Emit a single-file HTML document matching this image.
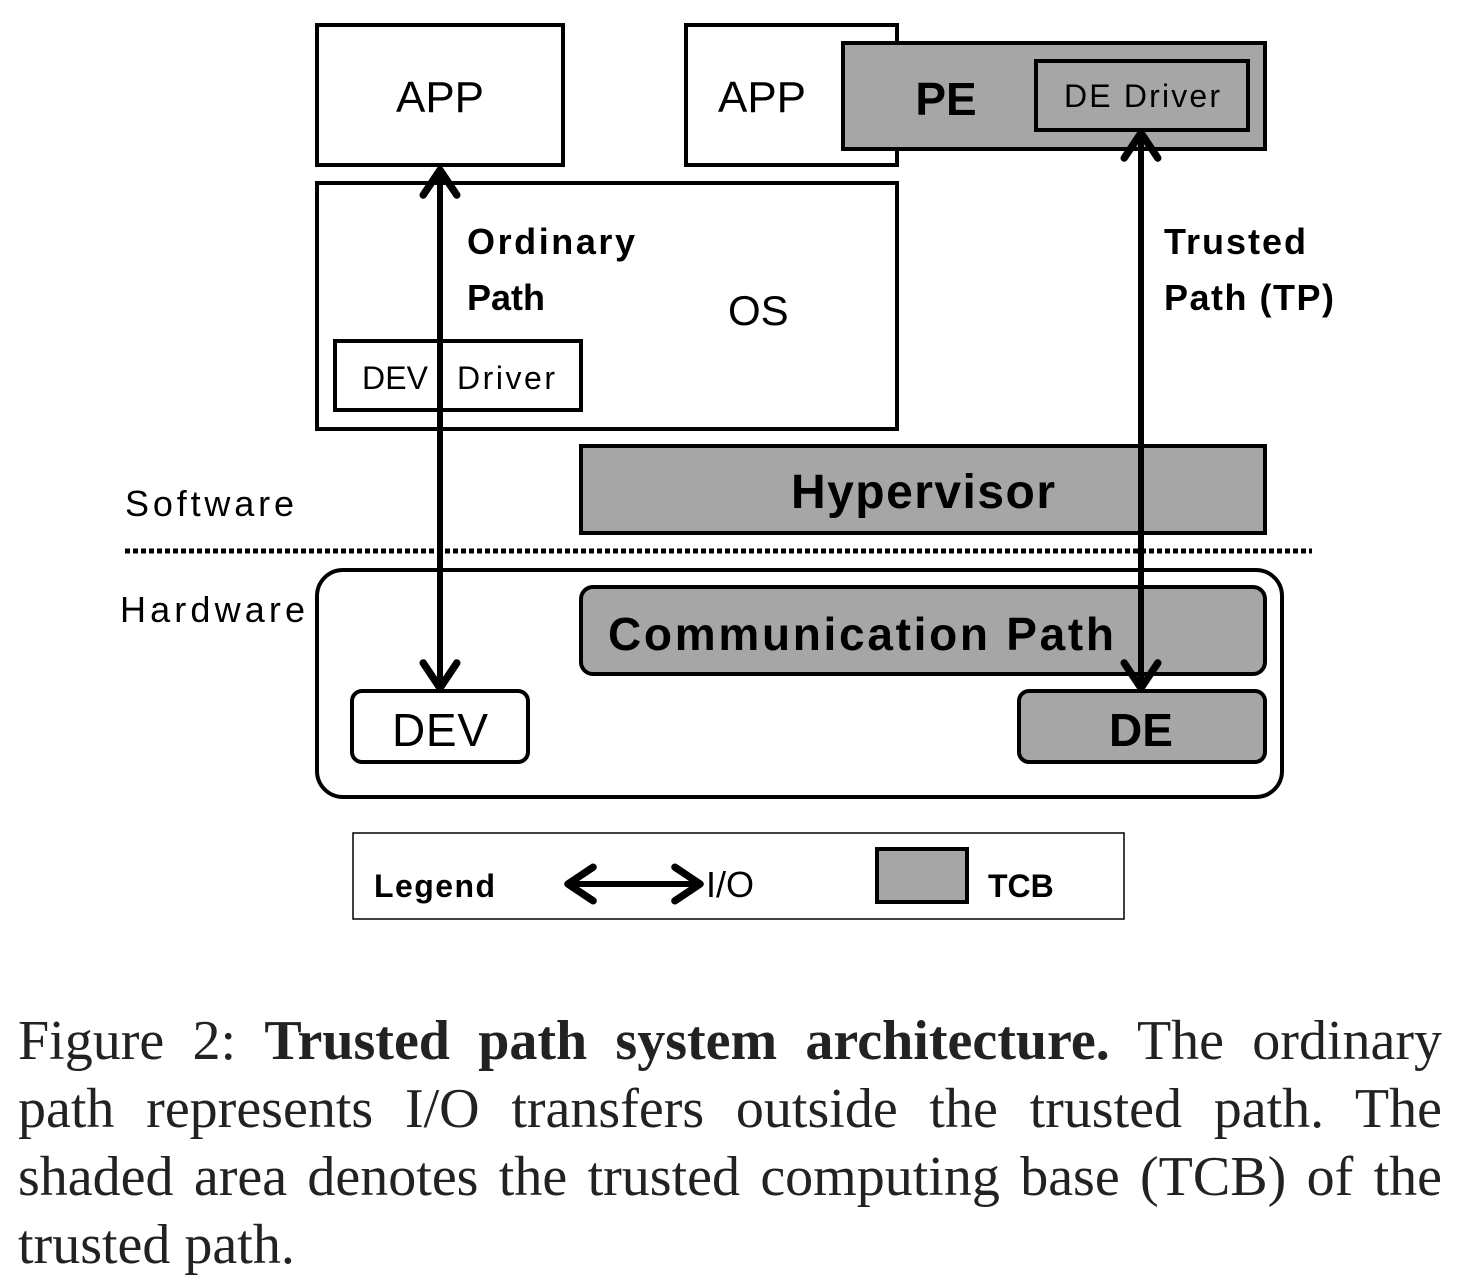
<!DOCTYPE html>
<html><head><style>
body{margin:0;background:#fff;width:1458px;height:1284px;overflow:hidden;position:relative}
svg{position:absolute;left:0;top:0}
.cap{position:absolute;left:18px;width:1424px;font-family:"Liberation Serif",serif;font-size:56px;line-height:68px;color:#222}
.cap div{text-align:justify;text-align-last:justify;white-space:nowrap}
.cap div.last{text-align-last:left}
</style></head><body>
<svg width="1458" height="960" viewBox="0 0 1458 960" font-family="Liberation Sans, sans-serif">
<defs>
<marker id="ah" viewBox="0 0 20 20" refX="15" refY="10" markerWidth="7" markerHeight="7" orient="auto-start-reverse" markerUnits="strokeWidth">
<path d="M4,2 L16,10 L4,18" fill="none" stroke="#000" stroke-width="3.5" stroke-linecap="round" stroke-linejoin="round"/>
</marker>
</defs>
<g stroke="#000" stroke-width="4" fill="#fff">
<rect x="317" y="25" width="246" height="140"/>
<rect x="686" y="25" width="211" height="140"/>
<rect x="843" y="43" width="422" height="106" fill="#a6a6a6"/>
<rect x="1036" y="61" width="212" height="69" fill="#a6a6a6"/>
<rect x="317" y="183" width="580" height="246"/>
<rect x="335" y="341" width="246" height="69"/>
<rect x="581" y="446" width="684" height="87" fill="#a6a6a6"/>
<rect x="317" y="570" width="965" height="227" rx="26"/>
<rect x="581" y="587" width="684" height="87" rx="12" fill="#a6a6a6"/>
<rect x="352" y="691" width="176" height="71" rx="10"/>
<rect x="1019" y="691" width="246" height="71" rx="10" fill="#a6a6a6"/>
</g>
<line x1="125" y1="551" x2="1312" y2="551" stroke="#000" stroke-width="5" stroke-dasharray="5 3"/>
<g fill="#000">
<text x="440" y="112" font-size="44" text-anchor="middle">APP</text>
<text x="762" y="112" font-size="44" text-anchor="middle">APP</text>
<text x="946" y="115" font-size="46" font-weight="bold" text-anchor="middle">PE</text>
<text x="1142" y="107" font-size="32" text-anchor="middle" textLength="156">DE Driver</text>
<text x="467" y="254" font-size="36" font-weight="bold" textLength="168">Ordinary</text>
<text x="467" y="310" font-size="36" font-weight="bold">Path</text>
<text x="728" y="325" font-size="42">OS</text>
<text x="362" y="389" font-size="32" textLength="66">DEV</text>
<text x="457" y="389" font-size="32" textLength="98">Driver</text>
<text x="1164" y="254" font-size="36" font-weight="bold" textLength="142">Trusted</text>
<text x="1164" y="310" font-size="36" font-weight="bold" textLength="170">Path (TP)</text>
<text x="923" y="508" font-size="48" font-weight="bold" text-anchor="middle" textLength="264">Hypervisor</text>
<text x="125" y="516" font-size="36" textLength="169">Software</text>
<text x="120" y="622" font-size="36" textLength="185">Hardware</text>
<text x="608" y="650" font-size="46" font-weight="bold" textLength="506">Communication Path</text>
<text x="440" y="746" font-size="46" text-anchor="middle" textLength="96">DEV</text>
<text x="1141" y="746" font-size="46" font-weight="bold" text-anchor="middle">DE</text>
</g>
<line x1="440" y1="172" x2="440" y2="686" stroke="#000" stroke-width="6" marker-start="url(#ah)" marker-end="url(#ah)"/>
<line x1="1141" y1="135" x2="1141" y2="686" stroke="#000" stroke-width="6" marker-start="url(#ah)" marker-end="url(#ah)"/>
<rect x="353" y="833" width="771" height="86" fill="#fff" stroke="#000" stroke-width="1.5"/>
<text x="374" y="897" font-size="32" font-weight="bold" textLength="121">Legend</text>
<line x1="570" y1="884" x2="698" y2="884" stroke="#000" stroke-width="6" marker-start="url(#ah)" marker-end="url(#ah)"/>
<text x="706" y="897" font-size="36">I/O</text>
<rect x="877" y="849" width="90" height="53" fill="#a6a6a6" stroke="#000" stroke-width="4"/>
<text x="988" y="897" font-size="32" font-weight="bold">TCB</text>
</svg>
<div class="cap" style="top:1007px">
<div>Figure 2: <b>Trusted path system architecture.</b> The ordinary</div>
<div>path represents I/O transfers outside the trusted path. The</div>
<div>shaded area denotes the trusted computing base (TCB) of the</div>
<div class="last">trusted path.</div>
</div>
</body></html>
